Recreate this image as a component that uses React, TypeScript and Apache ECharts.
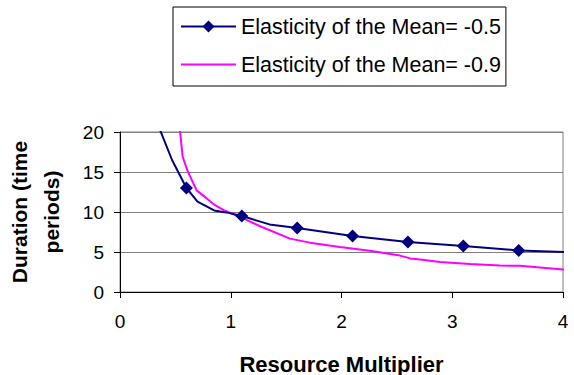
import React, { useEffect, useRef } from "react";
import * as echarts from "echarts";

const seriesNames = ["Elasticity of the Mean= -0.5", "Elasticity of the Mean= -0.9"];

// Series 1 (navy, diamonds at marked points)
const blueX = [0.34, 0.47, 0.6, 0.7, 0.85, 0.96, 1.1, 1.35, 1.6, 2.1, 2.6, 3.1, 3.6, 4.1];
const blueY = [21, 16.5, 13, 11.3, 10.2, 9.95, 9.5, 8.45, 8.0, 7.0, 6.25, 5.75, 5.2, 4.95];
const blueMarkedX = [0.6, 1.1, 1.6, 2.1, 2.6, 3.1, 3.6];

// Series 2 (magenta, no markers)
const pinkX = [0.535, 0.566, 0.608, 0.692, 0.783, 0.858, 0.948, 1.09, 1.26, 1.535, 1.715, 1.986, 2.257, 2.528, 2.62, 2.71, 2.89, 3.16, 3.43, 3.61, 4.0, 4.1];
const pinkY = [21, 16.9, 15.2, 12.7, 11.7, 10.85, 10.15, 9.35, 8.25, 6.67, 6.17, 5.62, 5.17, 4.55, 4.2, 4.05, 3.75, 3.5, 3.3, 3.27, 2.82, 2.72];

const xTicks = { min: 0, max: 4, interval: 1 };
const yTicks = { min: 0, max: 20, interval: 5 };

const FONT = "'Liberation Sans', Arial, sans-serif";

export default function App() {
  const ref = useRef<HTMLDivElement>(null);
  useEffect(() => {
    if (!ref.current) return;
    const chart = echarts.init(ref.current, null, { renderer: "svg" });
    const blueData = blueX.map((x, i) => {
      const marked = blueMarkedX.includes(x);
      return marked ? { value: [x, blueY[i]] } : { value: [x, blueY[i]], symbol: "none" };
    });
    const pinkData = pinkX.map((x, i) => [x, pinkY[i]]);
    chart.setOption({
      animation: false,
      textStyle: { fontFamily: FONT },
      grid: {
        left: 120,
        right: 11,
        top: 132,
        bottom: 83,
        containLabel: false,
        outerBoundsMode: "none",
        show: true,
        borderColor: "#808080",
        borderWidth: 1,
        backgroundColor: "transparent",
      },
      legend: {
        orient: "vertical",
        left: 173,
        top: 7,
        borderColor: "#000",
        borderWidth: 1,
        padding: [7, 5, 9, 7],
        itemWidth: 55,
        itemHeight: 15,
        itemGap: 13,
        textStyle: { fontSize: 21.5, color: "#000", fontFamily: FONT, lineHeight: 25 },
        data: [
          { name: seriesNames[0] },
          { name: seriesNames[1], itemStyle: { opacity: 0 } },
        ],
      },
      xAxis: {
        type: "value",
        min: xTicks.min,
        max: xTicks.max,
        interval: xTicks.interval,
        name: "Resource Multiplier",
        nameLocation: "middle",
        nameGap: 61,
        nameTextStyle: { fontSize: 22, fontWeight: "bold", color: "#000", fontFamily: FONT },
        axisLine: { lineStyle: { color: "#000", width: 1 } },
        axisTick: { show: true, length: 6, lineStyle: { color: "#000" } },
        axisLabel: { fontSize: 19, color: "#000", margin: 20, fontFamily: FONT },
        splitLine: { show: false },
      },
      yAxis: {
        type: "value",
        min: yTicks.min,
        max: yTicks.max,
        interval: yTicks.interval,
        name: "Duration (time\nperiods)",
        nameLocation: "middle",
        nameRotate: 90,
        nameGap: 53,
        nameTextStyle: { fontSize: 21, fontWeight: "bold", color: "#000", fontFamily: FONT, lineHeight: 32 },
        axisLine: { show: true, lineStyle: { color: "#000", width: 1 } },
        axisTick: { show: true, length: 6, lineStyle: { color: "#000" } },
        axisLabel: { fontSize: 19, color: "#000", margin: 16, fontFamily: FONT },
        splitLine: { show: true, lineStyle: { color: "#808080", width: 1 } },
      },
      series: [
        {
          name: seriesNames[0],
          type: "line",
          data: blueData,
          symbol: "diamond",
          symbolSize: 13,
          showAllSymbol: true,
          itemStyle: { color: "#000080" },
          lineStyle: { color: "#000080", width: 2 },
          clip: true,
          z: 3,
        },
        {
          name: seriesNames[1],
          type: "line",
          data: pinkData,
          symbol: "none",
          itemStyle: { color: "#FF00FF" },
          lineStyle: { color: "#FF00FF", width: 2 },
          clip: true,
          z: 2,
        },
      ],
    });
    return () => chart.dispose();
  }, []);
  return (
    <div
      ref={ref}
      style={{ position: "fixed", left: 0, top: 0, width: 574, height: 375, background: "#fff" }}
    />
  );
}
